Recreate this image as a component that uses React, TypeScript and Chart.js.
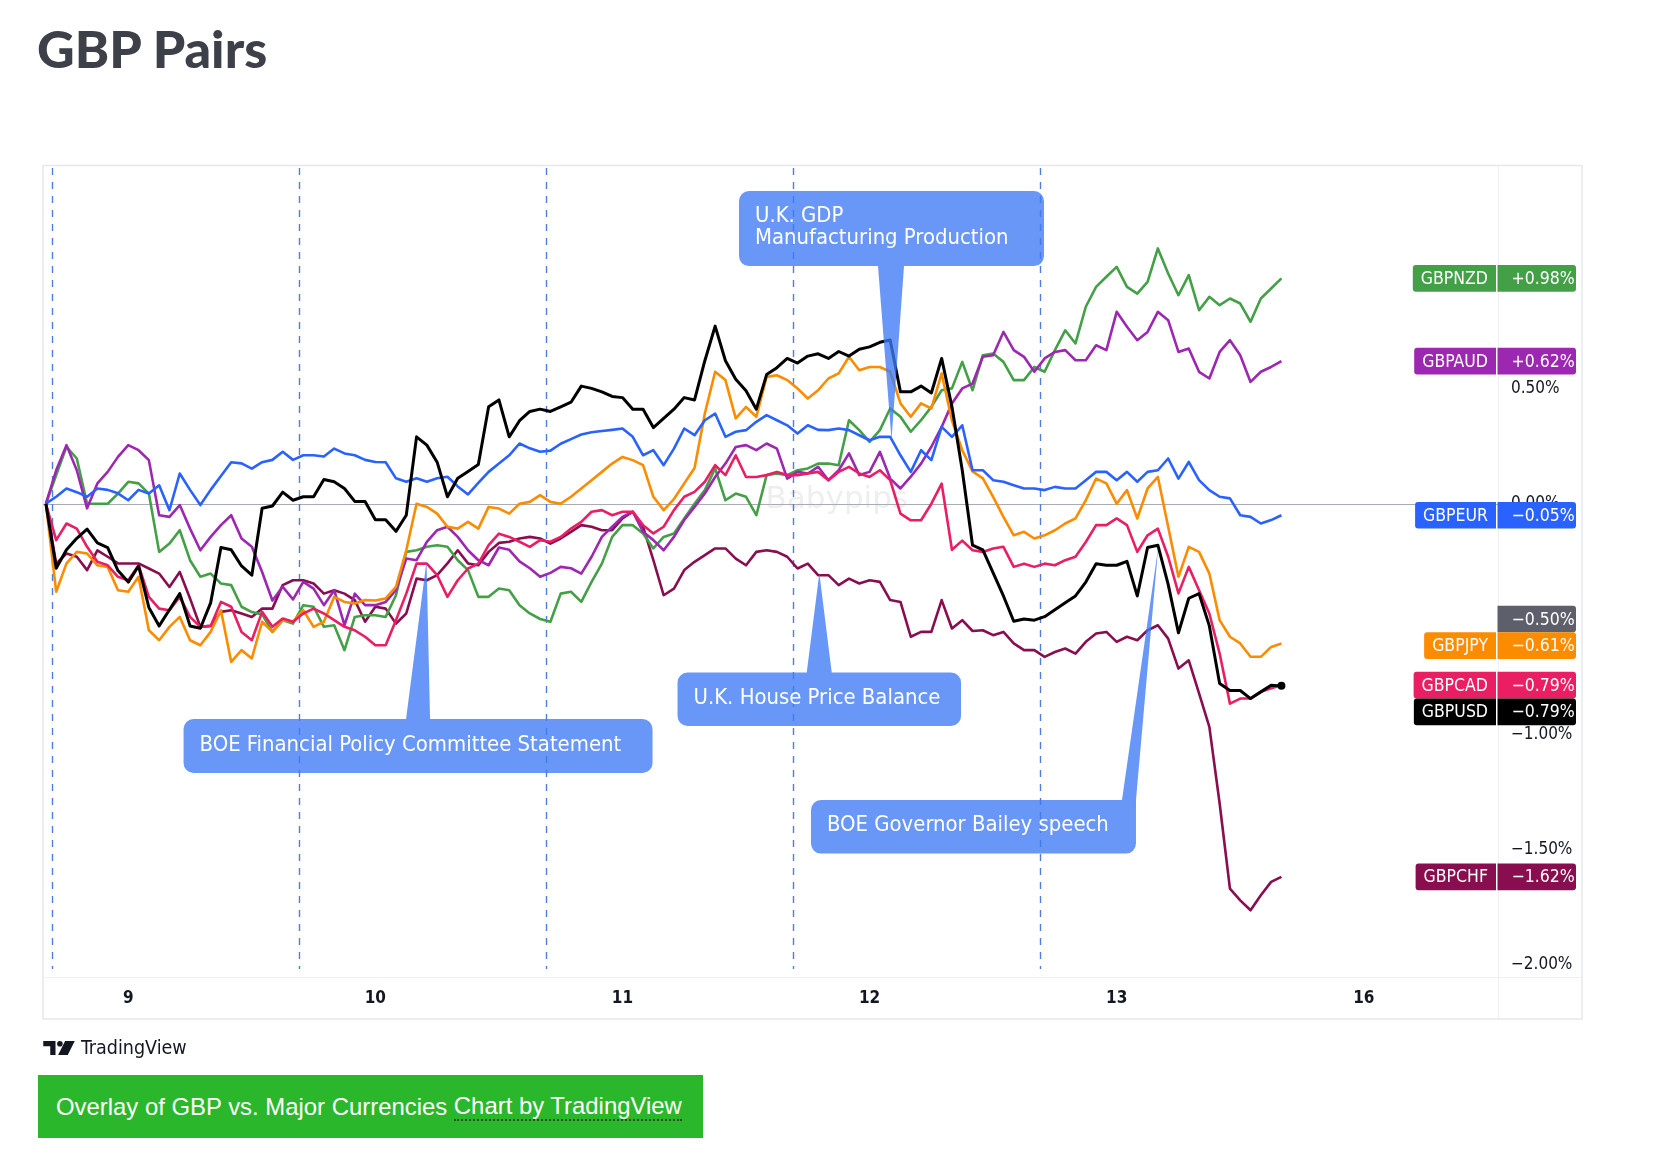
import React, { useEffect, useRef } from "react";
import { Chart, registerables } from "chart.js";

Chart.register(...registerables);

// ---------------- data ----------------
const dayTickPositions = [8, 32, 56, 80, 104, 128];
const dayTickLabels = ["9", "10", "11", "12", "13", "16"];
const sessionBreaks = [0.6, 24.6, 48.6, 72.6, 96.6];
const priceTickValues = [1.0, 0.5, 0.0, -0.5, -1.0, -1.5, -2.0];
const markerLevel = -0.5;

const gbpusd = [
  0, -0.28, -0.2, -0.15, -0.11, -0.17, -0.19, -0.29, -0.34, -0.27,
  -0.45, -0.53, -0.46, -0.39, -0.53, -0.54, -0.43, -0.19, -0.2, -0.27,
  -0.31, -0.02, -0.01, 0.05, 0.015, 0.03, 0.03, 0.105, 0.095, 0.066,
  0.01, 0.01, -0.07, -0.07, -0.12, -0.05, 0.29, 0.254, 0.18, 0.03,
  0.11, 0.14, 0.17, 0.42, 0.45, 0.29, 0.36, 0.4, 0.41, 0.4,
  0.42, 0.44, 0.51, 0.5, 0.485, 0.465, 0.46, 0.41, 0.41, 0.33,
  0.37, 0.41, 0.46, 0.45, 0.62, 0.77, 0.62, 0.54, 0.49, 0.41,
  0.56, 0.59, 0.63, 0.61, 0.64, 0.65, 0.63, 0.66, 0.64, 0.67,
  0.68, 0.7, 0.71, 0.485, 0.485, 0.51, 0.48, 0.63, 0.42, 0.145,
  -0.18, -0.2, -0.3, -0.4, -0.51, -0.5, -0.505, -0.49, -0.46, -0.43,
  -0.4, -0.34, -0.26, -0.267, -0.267, -0.25, -0.4, -0.19, -0.18, -0.35,
  -0.56, -0.41, -0.39, -0.53, -0.78, -0.81, -0.81, -0.845, -0.816, -0.787,
  -0.79,
];

const gbpeur = [
  0, 0.03, 0.066, 0.05, 0.03, 0.066, 0.06, 0.045, 0.015, 0.06,
  0.044, 0.08, -0.028, 0.131, 0.06, -0.006, 0.06, 0.12, 0.18, 0.175,
  0.152, 0.18, 0.19, 0.225, 0.19, 0.21, 0.21, 0.205, 0.239, 0.218,
  0.21, 0.19, 0.181, 0.18, 0.11, 0.095, 0.11, 0.095, 0.11, 0.117,
  0.075, 0.04, 0.09, 0.138, 0.174, 0.21, 0.261, 0.24, 0.225, 0.23,
  0.26, 0.28, 0.3, 0.31, 0.315, 0.32, 0.326, 0.29, 0.21, 0.232,
  0.167, 0.239, 0.326, 0.297, 0.362, 0.391, 0.29, 0.312, 0.319, 0.355,
  0.384, 0.362, 0.34, 0.304, 0.34, 0.32, 0.319, 0.326, 0.319, 0.297,
  0.275, 0.29, 0.29, 0.21, 0.138, 0.232, 0.189, 0.333, 0.29, 0.34,
  0.145, 0.145, 0.102, 0.095, 0.08, 0.066, 0.066, 0.059, 0.073, 0.066,
  0.066, 0.102, 0.138, 0.138, 0.102, 0.138, 0.095, 0.138, 0.145, 0.196,
  0.109, 0.181, 0.102, 0.059, 0.03, 0.023, -0.05, -0.057, -0.086, -0.071,
  -0.05,
];

const gbpnzd = [
  0, 0.124, 0.247, 0.196, 0.0, 0.0, 0.0, 0.044, 0.095, 0.088,
  0.044, -0.209, -0.173, -0.115, -0.245, -0.317, -0.303, -0.346, -0.353, -0.447,
  -0.47, -0.48, -0.556, -0.505, -0.52, -0.44, -0.447, -0.534, -0.527, -0.635,
  -0.491, -0.484, -0.484, -0.491, -0.397, -0.209, -0.202, -0.187, -0.18, -0.187,
  -0.245, -0.288, -0.404, -0.404, -0.368, -0.375, -0.44, -0.476, -0.5, -0.512,
  -0.39, -0.382, -0.426, -0.339, -0.26, -0.144, -0.093, -0.093, -0.129, -0.194,
  -0.144, -0.129, -0.064, 0.0, 0.059, 0.153, 0.015, 0.044, 0.03, -0.05,
  0.124, 0.131, 0.124, 0.145, 0.153, 0.174, 0.174, 0.167, 0.362, 0.319,
  0.268, 0.319, 0.413, 0.377, 0.312, 0.362, 0.42, 0.492, 0.5, 0.615,
  0.492, 0.644, 0.651, 0.615, 0.536, 0.536, 0.593, 0.572, 0.666, 0.752,
  0.695, 0.854, 0.94, 0.984, 1.027, 0.94, 0.911, 0.962, 1.107, 0.998,
  0.904, 0.991, 0.839, 0.897, 0.861, 0.89, 0.868, 0.789, 0.89, 0.933,
  0.977,
];

const gbpaud = [
  0, 0.145, 0.254, 0.145, -0.02, 0.088, 0.138, 0.203, 0.254, 0.232,
  0.189, -0.05, -0.057, -0.006, -0.108, -0.202, -0.144, -0.093, -0.05, -0.151,
  -0.187, -0.296, -0.42, -0.36, -0.415, -0.339, -0.368, -0.44, -0.375, -0.527,
  -0.39, -0.44, -0.44, -0.426, -0.375, -0.238, -0.245, -0.166, -0.115, -0.1,
  -0.144, -0.202, -0.245, -0.267, -0.19, -0.2, -0.25, -0.28, -0.317, -0.3,
  -0.274, -0.28, -0.303, -0.23, -0.144, -0.1, -0.057, -0.035, -0.122, -0.158,
  -0.202, -0.144, -0.071, -0.014, 0.044, 0.116, 0.174, 0.246, 0.254, 0.232,
  0.261, 0.239, 0.109, 0.138, 0.131, 0.16, 0.102, 0.145, 0.218, 0.124,
  0.138, 0.225, 0.109, 0.066, 0.117, 0.174, 0.247, 0.333, 0.435, 0.5,
  0.521, 0.637, 0.644, 0.745, 0.666, 0.637, 0.572, 0.63, 0.658, 0.666,
  0.622, 0.622, 0.687, 0.666, 0.832, 0.767, 0.709, 0.745, 0.832, 0.796,
  0.658, 0.673, 0.572, 0.543, 0.658, 0.709, 0.644, 0.528, 0.572, 0.593,
  0.618,
];

const gbpjpy = [
  0, -0.382, -0.259, -0.209, -0.216, -0.267, -0.274, -0.375, -0.382, -0.317,
  -0.549, -0.592, -0.534, -0.491, -0.592, -0.614, -0.556, -0.462, -0.686, -0.635,
  -0.671, -0.512, -0.556, -0.505, -0.512, -0.462, -0.534, -0.512, -0.404, -0.426,
  -0.433, -0.418, -0.42, -0.411, -0.361, -0.202, 0.0, -0.014, -0.043, -0.1,
  -0.108, -0.079, -0.108, -0.014, -0.021, -0.043, 0.0, 0.008, 0.037, 0.008,
  0.0, 0.03, 0.066, 0.102, 0.138, 0.174, 0.203, 0.189, 0.167, 0.03,
  -0.028, 0.02, 0.088, 0.155, 0.391, 0.572, 0.536, 0.37, 0.42, 0.377,
  0.55, 0.557, 0.536, 0.5, 0.456, 0.492, 0.543, 0.565, 0.637, 0.579,
  0.593, 0.593, 0.572, 0.435, 0.377, 0.435, 0.413, 0.565, 0.36, 0.232,
  0.14, 0.11, 0.03, -0.057, -0.137, -0.122, -0.151, -0.137, -0.115, -0.086,
  -0.064, 0.015, 0.109, 0.088, 0.0, 0.059, -0.064, 0.066, 0.116, -0.1,
  -0.317, -0.187, -0.209, -0.303, -0.505, -0.577, -0.606, -0.664, -0.664, -0.621,
  -0.606,
];

const gbpcad = [
  0, -0.158, -0.086, -0.108, -0.187, -0.252, -0.267, -0.317, -0.332, -0.267,
  -0.404, -0.455, -0.462, -0.404, -0.491, -0.534, -0.53, -0.426, -0.447, -0.556,
  -0.592, -0.469, -0.534, -0.498, -0.512, -0.476, -0.455, -0.476, -0.505, -0.534,
  -0.549, -0.577, -0.614, -0.614, -0.505, -0.39, -0.26, -0.26, -0.31, -0.404,
  -0.332, -0.281, -0.26, -0.18, -0.13, -0.144, -0.165, -0.187, -0.158, -0.165,
  -0.144, -0.108, -0.079, -0.035, -0.028, -0.05, -0.035, -0.035, -0.093, -0.129,
  -0.1, -0.028, 0.03, 0.051, 0.095, 0.167, 0.124, 0.21, 0.116, 0.116,
  0.124, 0.138, 0.124, 0.124, 0.131, 0.138, 0.102, 0.138, 0.16, 0.131,
  0.116, 0.145, 0.102, -0.043, -0.072, -0.072, 0.0, 0.087, -0.2, -0.16,
  -0.202, -0.209, -0.194, -0.187, -0.274, -0.26, -0.274, -0.26, -0.267, -0.245,
  -0.23, -0.166, -0.093, -0.093, -0.064, -0.093, -0.209, -0.137, -0.108, -0.23,
  -0.389, -0.274, -0.375, -0.476, -0.65, -0.867, -0.845, -0.845, -0.816, -0.8,
  -0.787,
];

const gbpchf = [
  0, -0.26, -0.216, -0.23, -0.288, -0.202, -0.23, -0.259, -0.259, -0.259,
  -0.281, -0.303, -0.361, -0.296, -0.411, -0.534, -0.53, -0.469, -0.462, -0.476,
  -0.491, -0.455, -0.455, -0.353, -0.332, -0.332, -0.346, -0.39, -0.375, -0.39,
  -0.418, -0.512, -0.447, -0.455, -0.52, -0.476, -0.325, -0.332, -0.31, -0.259,
  -0.202, -0.259, -0.267, -0.209, -0.17, -0.165, -0.151, -0.144, -0.151, -0.173,
  -0.151, -0.122, -0.093, -0.1, -0.115, -0.115, -0.064, -0.035, -0.1, -0.245,
  -0.397, -0.368, -0.288, -0.252, -0.223, -0.194, -0.194, -0.238, -0.267, -0.209,
  -0.202, -0.209, -0.23, -0.281, -0.26, -0.31, -0.31, -0.353, -0.325, -0.346,
  -0.332, -0.339, -0.418, -0.426, -0.577, -0.556, -0.556, -0.418, -0.541, -0.505,
  -0.552, -0.549, -0.57, -0.556, -0.606, -0.635, -0.635, -0.664, -0.643, -0.628,
  -0.65, -0.599, -0.563, -0.556, -0.599, -0.577, -0.592, -0.549, -0.527, -0.585,
  -0.715, -0.679, -0.823, -0.968, -1.3, -1.669, -1.72, -1.763, -1.698, -1.64,
  -1.618,
];

// series: names and values (drawing order: first is on top)
const seriesNames = ["GBPUSD", "GBPEUR", "GBPCAD", "GBPJPY", "GBPAUD", "GBPNZD", "GBPCHF"];
const seriesValues = [gbpusd, gbpeur, gbpcad, gbpjpy, gbpaud, gbpnzd, gbpchf];

// event callouts: text and the (bar, value) point they mark
const calloutTexts = [
  ["BOE Financial Policy Committee Statement"],
  ["U.K. House Price Balance"],
  ["U.K. GDP", "Manufacturing Production"],
  ["BOE Governor Bailey speech"],
];
const calloutBars = [36.97, 75.12, 82.13, 108.04];
const calloutValues = [-0.2485, -0.302, 0.276, -0.1865];

// ---------------- styles / layout ----------------
const seriesColors: Record<string, string> = {
  GBPUSD: "#000000",
  GBPEUR: "#2962ff",
  GBPCAD: "#e91e63",
  GBPJPY: "#fb8c00",
  GBPAUD: "#9c27b0",
  GBPNZD: "#43a047",
  GBPCHF: "#880e4f",
};
const labelOrder = ["GBPNZD", "GBPAUD", "GBPEUR", "__marker", "GBPJPY", "GBPCAD", "GBPUSD", "GBPCHF"];
const markerColor = "#5d606b";

const calloutLayout = [
  { dx: -243, dy: 158, w: 469, h: 54, side: "top", p1: -20.5, p2: 3.5 },
  { dx: -141.8, dy: 99.2, w: 283.5, h: 53.5, side: "top", p1: -12.6, p2: 12.4 },
  { dx: -152.5, dy: -249, w: 305, h: 75, side: "bottom", p1: -13.5, p2: 12.5 },
  { dx: -347.3, dy: 253.3, w: 325, h: 53.6, side: "top", p1: -36.3, p2: -22.3 },
];

const W = 1673;
const H = 1156;
const PX_PER_BAR = 10.296;
const FIRST_BAR_X = 45.9;
const PLOT_LEFT = 43;
const PLOT_RIGHT = 1498;
const PLOT_TOP = 166;
const PLOT_BOTTOM = 977;
const ZERO_Y = 503.7;
const PX_PER_PCT = 230.6;
const AXIS_W = 84;
const TIME_AXIS_H = 42;

const xMin = (PLOT_LEFT - FIRST_BAR_X) / PX_PER_BAR;
const xMax = (PLOT_RIGHT - FIRST_BAR_X) / PX_PER_BAR;
const yMax = (ZERO_Y - PLOT_TOP) / PX_PER_PCT;
const yMin = (ZERO_Y - PLOT_BOTTOM) / PX_PER_PCT;

const uiFont = '"DejaVu Sans Condensed", "Liberation Sans Narrow", "DejaVu Sans", sans-serif';
const calloutFill = "rgba(62,122,245,0.78)";

function fmtPct(v: number, sign = false) {
  const a = Math.abs(v).toFixed(2);
  if (v < -1e-9) return "\u2212" + a + "%";
  return (sign ? "+" : "") + a + "%";
}

function roundRectPath(ctx: CanvasRenderingContext2D, x: number, y: number, w: number, h: number, r: number[]) {
  const [tl, tr, br, bl] = r;
  ctx.moveTo(x + tl, y);
  ctx.lineTo(x + w - tr, y);
  ctx.arcTo(x + w, y, x + w, y + tr, tr);
  ctx.lineTo(x + w, y + h - br);
  ctx.arcTo(x + w, y + h, x + w - br, y + h, br);
  ctx.lineTo(x + bl, y + h);
  ctx.arcTo(x, y + h, x, y + h - bl, bl);
  ctx.lineTo(x, y + tl);
  ctx.arcTo(x, y, x + tl, y, tl);
  ctx.closePath();
}

const chartDecor = {
  id: "chartDecor",
  beforeDraw(chart: any) {
    const { ctx, chartArea: a, scales } = chart;
    const x = scales.x;
    const y = scales.y;
    ctx.save();
    ctx.fillStyle = "#ffffff";
    ctx.fillRect(0, 0, chart.width, chart.height);
    ctx.lineWidth = 1.5;
    ctx.strokeStyle = "#e6e8ec";
    ctx.strokeRect(a.left, a.top - 0.5, y.right - a.left, x.bottom - a.top + 0.5);
    ctx.lineWidth = 1;
    ctx.strokeStyle = "#eef0f3";
    ctx.beginPath();
    ctx.moveTo(a.right + 0.5, a.top);
    ctx.lineTo(a.right + 0.5, x.bottom);
    ctx.moveTo(a.left, a.bottom + 0.5);
    ctx.lineTo(y.right, a.bottom + 0.5);
    ctx.stroke();
    ctx.restore();
  },
  beforeDatasetsDraw(chart: any) {
    const { ctx, chartArea: a, scales } = chart;
    const x = scales.x;
    const y = scales.y;
    ctx.save();
    // watermark
    ctx.fillStyle = "rgba(120,123,134,0.13)";
    ctx.font = '31px "DejaVu Sans", sans-serif';
    ctx.textAlign = "left";
    ctx.textBaseline = "middle";
    ctx.fillText("Babypips", x.getPixelForValue(69.9), y.getPixelForValue(0.015));
    // zero line
    const zy = Math.round(y.getPixelForValue(0)) + 0.5;
    ctx.strokeStyle = "#a9acb4";
    ctx.lineWidth = 1;
    ctx.beginPath();
    ctx.moveTo(a.left, zy);
    ctx.lineTo(a.right, zy);
    ctx.stroke();
    // session breaks
    ctx.strokeStyle = "#4f7fdc";
    ctx.lineWidth = 1.4;
    ctx.setLineDash([7, 7]);
    for (const b of sessionBreaks) {
      const px = Math.round(x.getPixelForValue(b)) + 0.5;
      ctx.beginPath();
      ctx.moveTo(px, a.top + 2);
      ctx.lineTo(px, a.bottom - 8);
      ctx.stroke();
    }
    ctx.restore();
  },
  afterDatasetsDraw(chart: any) {
    const { ctx, scales } = chart;
    const x = scales.x;
    const y = scales.y;
    ctx.save();
    calloutTexts.forEach((lines, i) => {
      const L = calloutLayout[i];
      const tx = x.getPixelForValue(calloutBars[i]);
      const ty = y.getPixelForValue(calloutValues[i]);
      const left = tx + L.dx;
      const top = ty + L.dy;
      ctx.beginPath();
      roundRectPath(ctx, left, top, L.w, L.h, [10, 10, 10, 10]);
      if (L.side === "top") {
        const e = top;
        ctx.moveTo(tx + L.p1, e + 12);
        ctx.lineTo(tx + L.p1, e);
        ctx.lineTo(tx, ty);
        ctx.lineTo(tx + L.p2, e);
        ctx.lineTo(tx + L.p2, e + 12);
        ctx.closePath();
      } else {
        const e = top + L.h;
        ctx.moveTo(tx + L.p2, e - 12);
        ctx.lineTo(tx + L.p2, e);
        ctx.lineTo(tx, ty);
        ctx.lineTo(tx + L.p1, e);
        ctx.lineTo(tx + L.p1, e - 12);
        ctx.closePath();
      }
      ctx.fillStyle = calloutFill;
      ctx.fill("nonzero");
      ctx.fillStyle = "#ffffff";
      ctx.font = `21.9px ${uiFont}`;
      ctx.textAlign = "left";
      ctx.textBaseline = "middle";
      const lh = 21.5;
      const cy = top + L.h / 2 - 1;
      lines.forEach((t, k) => {
        ctx.fillText(t, left + 16, cy + (k - (lines.length - 1) / 2) * lh);
      });
    });
    ctx.restore();
  },
  afterDraw(chart: any) {
    const { ctx, scales } = chart;
    const y = scales.y;
    const h = 26.7;
    const items = labelOrder.map((name) => {
      if (name === "__marker") {
        return { name: "", value: markerLevel, color: markerColor, py: y.getPixelForValue(markerLevel) };
      }
      const vals = seriesValues[seriesNames.indexOf(name)];
      const v = vals[vals.length - 1];
      return { name, value: v, color: seriesColors[name], py: y.getPixelForValue(v) };
    });
    const sorted = items.slice().sort((p, q) => p.py - q.py);
    let prev = -Infinity;
    for (const it of sorted) {
      if (it.py < prev + h) it.py = prev + h;
      prev = it.py;
    }
    ctx.save();
    ctx.font = `17.5px ${uiFont}`;
    ctx.textBaseline = "middle";
    for (const it of sorted) {
      const top = it.py - h / 2;
      // value box
      ctx.fillStyle = it.color;
      ctx.beginPath();
      roundRectPath(ctx, y.left - 0.5, top, 78.5, h, [0, 3, 3, 0]);
      ctx.fill();
      ctx.fillStyle = "#ffffff";
      ctx.textAlign = "left";
      ctx.fillText(it.name ? fmtPct(it.value, true) : fmtPct(it.value), y.left + 13.5, it.py + 1);
      if (it.name) {
        const tw = ctx.measureText(it.name).width;
        const bw = tw + 16;
        ctx.fillStyle = it.color;
        ctx.beginPath();
        roundRectPath(ctx, y.left - 2 - bw, top, bw, h, [3, 0, 0, 3]);
        ctx.fill();
        ctx.fillStyle = "#ffffff";
        ctx.textAlign = "center";
        ctx.fillText(it.name, y.left - 2 - bw / 2, it.py + 1);
      }
    }
    ctx.restore();
  },
};

export default function App() {
  const ref = useRef<HTMLCanvasElement>(null);

  useEffect(() => {
    const canvas = ref.current;
    if (!canvas) return;
    const datasets = seriesNames.map((name, si) => {
      const vals = seriesValues[si];
      const last = vals.length - 1;
      return {
        label: name,
        data: vals.map((v, i) => ({ x: i, y: v })),
        borderColor: seriesColors[name],
        backgroundColor: seriesColors[name],
        borderWidth: name === "GBPUSD" ? 3 : 2.6,
        borderJoinStyle: "round" as const,
        tension: 0,
        fill: false,
        pointRadius: name === "GBPUSD" ? (c: any) => (c.dataIndex === last ? 4 : 0) : 0,
        pointHoverRadius: 0,
        pointBorderWidth: 0,
      };
    });
    const chart = new Chart(canvas, {
      type: "line",
      data: { datasets },
      plugins: [chartDecor],
      options: {
        responsive: false,
        animation: false,
        events: [],
        layout: {
          padding: {
            left: PLOT_LEFT,
            top: PLOT_TOP,
            right: W - PLOT_RIGHT - AXIS_W,
            bottom: H - PLOT_BOTTOM - TIME_AXIS_H,
          },
        },
        plugins: { legend: { display: false }, tooltip: { enabled: false } },
        scales: {
          x: {
            type: "linear",
            position: "bottom",
            min: xMin,
            max: xMax,
            grid: { display: false, drawTicks: false },
            border: { display: false },
            afterBuildTicks: (s: any) => {
              s.ticks = dayTickPositions.map((v) => ({ value: v }));
            },
            afterFit: (s: any) => {
              s.height = TIME_AXIS_H;
            },
            ticks: {
              autoSkip: false,
              maxRotation: 0,
              padding: 11,
              color: "#131722",
              font: { size: 17, weight: "bold", family: uiFont },
              callback: (_v: any, i: number) => dayTickLabels[i],
            },
          },
          y: {
            type: "linear",
            position: "right",
            min: yMin,
            max: yMax,
            grid: { display: false, drawTicks: false },
            border: { display: false },
            afterBuildTicks: (s: any) => {
              s.ticks = priceTickValues.map((v) => ({ value: v }));
            },
            afterFit: (s: any) => {
              s.width = AXIS_W;
            },
            ticks: {
              padding: 13,
              color: "#131722",
              font: { size: 17, family: uiFont },
              callback: (v: any) => fmtPct(Number(v)),
            },
          },
        },
      } as any,
    });
    return () => chart.destroy();
  }, []);

  return (
    <div style={{ position: "absolute", left: 0, top: 0, width: W, height: H, background: "#fff", overflow: "hidden" }}>
      <canvas ref={ref} width={W} height={H} style={{ position: "absolute", left: 0, top: 0, width: W, height: H }} />
      <div
        style={{
          position: "absolute",
          left: 37,
          top: 17,
          fontFamily: "Lato, 'Noto Sans', sans-serif",
          fontWeight: 900,
          fontSize: 52,
          color: "#3d4049",
          whiteSpace: "nowrap",
          lineHeight: "normal",
        }}
      >
        GBP Pairs
      </div>
      <div style={{ position: "absolute", left: 43, top: 1036, height: 24, display: "flex", alignItems: "center", gap: 6 }}>
        <svg width="32" height="14" viewBox="0 0 36 16">
          <path d="M0 0h14v16H8V6H0z" fill="#131722" />
          <circle cx="19" cy="3.2" r="3.2" fill="#131722" />
          <path d="M25 0h11l-8 16H17z" fill="#131722" />
        </svg>
        <span style={{ fontFamily: uiFont, fontSize: 19.5, color: "#131722", lineHeight: "24px" }}>TradingView</span>
      </div>
      <div
        style={{
          position: "absolute",
          left: 38,
          top: 1075,
          width: 665,
          height: 63,
          background: "#2bb72b",
          display: "flex",
          alignItems: "center",
          boxSizing: "border-box",
          paddingLeft: 18,
          fontFamily: "'Liberation Sans', Arial, sans-serif",
          fontSize: 23.9,
          color: "#ffffff",
          whiteSpace: "nowrap",
        }}
      >
        <span>Overlay of GBP vs. Major Currencies&nbsp;</span>
        <span style={{ borderBottom: "2px dotted #2a4a2a", lineHeight: "26px" }}>Chart by TradingView</span>
      </div>
    </div>
  );
}
